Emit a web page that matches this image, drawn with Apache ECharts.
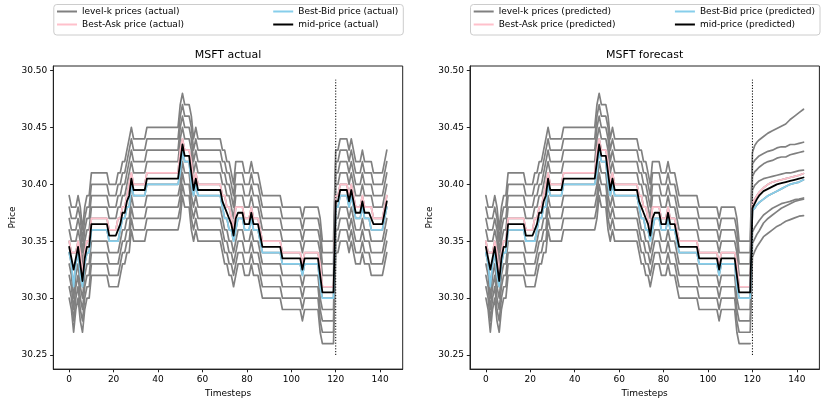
<!DOCTYPE html>
<html>
<head>
<meta charset="utf-8">
<title>MSFT actual / forecast</title>
<script src="https://cdn.jsdelivr.net/npm/echarts@6/dist/echarts.min.js"></script>
<style>
  html, body { margin: 0; padding: 0; background: #fff; }
  #chart { width: 823px; height: 403px; }
</style>
</head>
<body>
<div id="chart"></div>
<script>
// best ask / best bid per timestep (t = 0..143)
const bestAsk = [
  30.35, 30.34, 30.34, 30.34, 30.35, 30.34, 30.32, 30.34, 30.35, 30.35,
  30.37, 30.37, 30.37, 30.37, 30.37, 30.37, 30.37, 30.37, 30.36, 30.36, 30.36,
  30.36, 30.37, 30.37, 30.38, 30.38, 30.39, 30.40, 30.41,
  30.40, 30.40, 30.40, 30.40, 30.40, 30.40,
  30.41, 30.41, 30.41, 30.41, 30.41, 30.41, 30.41, 30.41, 30.41, 30.41, 30.41, 30.41, 30.41, 30.41, 30.41,
  30.43, 30.44, 30.43, 30.43, 30.43, 30.42, 30.40, 30.41,
  30.40, 30.40, 30.40, 30.40, 30.40, 30.40, 30.40, 30.40, 30.40, 30.40, 30.40,
  30.39, 30.39, 30.38, 30.38, 30.37, 30.36, 30.38,
  30.38, 30.38, 30.38, 30.37, 30.37, 30.37, 30.38, 30.37, 30.37, 30.37, 30.36,
  30.35, 30.35, 30.35, 30.35, 30.35, 30.35, 30.35, 30.35, 30.35,
  30.34, 30.34, 30.34, 30.34, 30.34, 30.34, 30.34, 30.34, 30.34,
  30.33, 30.34, 30.34, 30.34, 30.34, 30.34, 30.34, 30.34, 30.33,
  30.31, 30.31, 30.31, 30.31, 30.31, 30.31,
  30.39, 30.39, 30.40, 30.40, 30.40, 30.40, 30.39, 30.40, 30.39, 30.38, 30.38, 30.38,
  30.39, 30.38, 30.38, 30.38, 30.38, 30.37, 30.37, 30.37, 30.37, 30.37, 30.38, 30.39
];
const bestBid = [
  30.34, 30.33, 30.31, 30.33, 30.34, 30.32, 30.31, 30.33, 30.34, 30.34,
  30.36, 30.36, 30.36, 30.36, 30.36, 30.36, 30.36, 30.36, 30.35, 30.35, 30.35,
  30.35, 30.35, 30.36, 30.37, 30.37, 30.38, 30.38, 30.40,
  30.39, 30.39, 30.39, 30.39, 30.39, 30.39,
  30.40, 30.40, 30.40, 30.40, 30.40, 30.40, 30.40, 30.40, 30.40, 30.40, 30.40, 30.40, 30.40, 30.40, 30.40,
  30.41, 30.43, 30.42, 30.42, 30.42, 30.40, 30.39, 30.40,
  30.39, 30.39, 30.39, 30.39, 30.39, 30.39, 30.39, 30.39, 30.39, 30.39, 30.39,
  30.38, 30.37, 30.37, 30.36, 30.36, 30.35, 30.36,
  30.37, 30.37, 30.37, 30.36, 30.36, 30.36, 30.37, 30.36, 30.36, 30.36, 30.35,
  30.34, 30.34, 30.34, 30.34, 30.34, 30.34, 30.34, 30.34, 30.34,
  30.33, 30.33, 30.33, 30.33, 30.33, 30.33, 30.33, 30.33, 30.33,
  30.32, 30.33, 30.33, 30.33, 30.33, 30.33, 30.33, 30.33, 30.31,
  30.30, 30.30, 30.30, 30.30, 30.30, 30.30,
  30.38, 30.38, 30.39, 30.39, 30.39, 30.39, 30.38, 30.39, 30.38, 30.37, 30.37, 30.37,
  30.38, 30.37, 30.37, 30.37, 30.36, 30.36, 30.36, 30.36, 30.36, 30.36, 30.37, 30.38
];

// book depth: level-k sits k ticks away from the best price
const tickSize = 0.01;
const levelTicks = [0, 1, 2, 3, 4];

// forecast (right panel), starting at forecastStart
const forecastStart = 120;
const fcSteps = [120, 121, 122, 123, 125, 127, 129, 131, 133, 135, 137, 139, 141, 143];
const fcAsk = [30.383, 30.387, 30.390, 30.393, 30.397, 30.400, 30.402, 30.403, 30.404, 30.405, 30.406, 30.407, 30.408, 30.4095];
const fcMid = [30.379, 30.383, 30.387, 30.390, 30.394, 30.396, 30.398, 30.400, 30.401, 30.402, 30.403, 30.404, 30.405, 30.406];
const fcBid = [30.377, 30.379, 30.382, 30.384, 30.387, 30.390, 30.392, 30.394, 30.396, 30.398, 30.400, 30.401, 30.402, 30.404];
// ask levels 2..5 and bid levels 2..4 of the forecast
const fcAskDepth = [
  [30.395, 30.399, 30.401, 30.403, 30.405, 30.406, 30.407, 30.408, 30.409, 30.410, 30.410, 30.411, 30.412, 30.4125],
  [30.407, 30.411, 30.413, 30.415, 30.418, 30.420, 30.421, 30.423, 30.424, 30.424, 30.426, 30.427, 30.428, 30.429],
  [30.418, 30.421, 30.423, 30.425, 30.427, 30.429, 30.430, 30.432, 30.433, 30.433, 30.435, 30.435, 30.436, 30.437],
  [30.428, 30.434, 30.437, 30.439, 30.442, 30.445, 30.447, 30.449, 30.451, 30.453, 30.457, 30.460, 30.463, 30.466]
];
const fcBidDepth = [
  [30.358, 30.362, 30.365, 30.368, 30.373, 30.376, 30.379, 30.381, 30.383, 30.384, 30.385, 30.3865, 30.387, 30.388],
  [30.348, 30.352, 30.356, 30.359, 30.366, 30.370, 30.373, 30.376, 30.379, 30.381, 30.383, 30.385, 30.386, 30.387],
  [30.336, 30.341, 30.345, 30.348, 30.354, 30.357, 30.360, 30.363, 30.365, 30.3675, 30.369, 30.3705, 30.372, 30.3725]
];

const markerRange = [30.25, 30.492];
const xTicks = [0, 20, 40, 60, 80, 100, 120, 140];
const yTicks = [30.25, 30.30, 30.35, 30.40, 30.45, 30.50];

const FONT = 'DejaVu Sans';
const GRAY = '#808080', PINK = '#ffc0cb', BLUE = '#87ceeb', BLACK = '#000000';

const chart = echarts.init(document.getElementById('chart'), null, { renderer: 'canvas' });

const fcPts = vals => vals.map((v, i) => [fcSteps[i], v]);
const path = (base, sign, k, upTo) =>
  base.slice(0, upTo).map((p, t) => [t, +(p + sign * k * tickSize).toFixed(3)]);
const actualMid = bestAsk.map((a, t) => +((a + bestBid[t]) / 2).toFixed(4));

const line = (name, data, color, width, idx, z) => ({
  name, type: 'line', data, xAxisIndex: idx, yAxisIndex: idx,
  showSymbol: false, symbol: 'none', silent: true, animation: false, z,
  color, lineStyle: { color, width, join: 'round', cap: 'round' }
});

function panel(idx, tag, forecast) {
  const n = forecast ? forecastStart : bestAsk.length;
  const gray = `level-k prices (${tag})`;
  const out = [];
  levelTicks.forEach(k => {
    let a = path(bestAsk, 1, k, n);
    let b = path(bestBid, -1, k, n);
    if (forecast) {
      const fa = k === 0 ? fcAsk : fcAskDepth[k - 1];
      const fb = k === 0 ? fcBid : fcBidDepth[k - 1];
      if (fa) a = a.concat(fcPts(fa));
      if (fb) b = b.concat(fcPts(fb));
    }
    out.push(line(gray, a, GRAY, 1.7, idx, 2));
    out.push(line(gray, b, GRAY, 1.7, idx, 2));
  });
  const ask = path(bestAsk, 1, 0, n), bid = path(bestBid, -1, 0, n);
  const mid = actualMid.slice(0, n).map((v, t) => [t, v]);
  out.push(line(`Best-Ask price (${tag})`, forecast ? ask.concat(fcPts(fcAsk)) : ask, PINK, 1.7, idx, 3));
  out.push(line(`Best-Bid price (${tag})`, forecast ? bid.concat(fcPts(fcBid)) : bid, BLUE, 1.7, idx, 4));
  out.push(line(`mid-price (${tag})`, forecast ? mid.concat(fcPts(fcMid)) : mid, BLACK, 1.8, idx, 5));
  out.push({
    type: 'line', xAxisIndex: idx, yAxisIndex: idx, silent: true, animation: false,
    showSymbol: false, symbol: 'none', z: 6,
    data: [[forecastStart, markerRange[0]], [forecastStart, markerRange[1]]],
    lineStyle: { color: '#000', width: 1, type: [1.2, 1.6] }
  });
  return out;
}

const panels = [
  { left: 53.3, tag: 'actual', title: 'MSFT actual', forecast: false },
  { left: 470, tag: 'predicted', title: 'MSFT forecast', forecast: true }
];
const gridW = 349.4, gridTop = 66, gridH = 307.3;
const textStyle = { fontFamily: FONT, fontSize: 9, color: '#000' };

// width of a legend label, so the second column can hug the frame's right side
const measure = document.createElement('canvas').getContext('2d');
measure.font = `9px "${FONT}"`;
const textW = s => measure.measureText(s).width;

const legends = [], frames = [];
panels.forEach(p => {
  const item = (name, left, top) => ({
    data: [name], left, top, padding: 0, itemGap: 0,
    icon: 'rect', itemWidth: 20, itemHeight: 2, selectedMode: false, textStyle
  });
  const bidName = `Best-Bid price (${p.tag})`, midName = `mid-price (${p.tag})`;
  const col2 = p.left + 345 - 25 - Math.max(textW(bidName), textW(midName));
  legends.push(item(`level-k prices (${p.tag})`, p.left + 3.7, 7));
  legends.push(item(`Best-Ask price (${p.tag})`, p.left + 3.7, 20));
  legends.push(item(bidName, col2, 7));
  legends.push(item(midName, col2, 20));
  frames.push({
    type: 'rect', z: -1,
    shape: { x: p.left + 0.5, y: 4.5, width: 349.5, height: 30.5, r: 3 },
    style: { fill: 'rgba(255,255,255,0.8)', stroke: '#cccccc', lineWidth: 1 }
  });
});

chart.setOption({
  backgroundColor: '#fff',
  animation: false,
  title: panels.map(p => ({
    text: p.title, left: p.left + gridW / 2, top: 50, textAlign: 'center', padding: 0,
    textStyle: { fontFamily: FONT, fontSize: 11, fontWeight: 'normal', color: '#000' }
  })),
  legend: legends,
  graphic: frames,
  grid: panels.map(p => ({
    left: p.left, top: gridTop, width: gridW, height: gridH,
    show: true, borderColor: '#222', borderWidth: 1, containLabel: false
  })),
  xAxis: panels.map((p, i) => ({
    type: 'value', gridIndex: i, min: -7.15, max: 150.15,
    name: 'Timesteps', nameLocation: 'middle', nameGap: 19,
    nameTextStyle: textStyle,
    axisLine: { show: true, onZero: false, lineStyle: { color: '#222', width: 1 } },
    axisTick: { show: true, inside: false, customValues: xTicks, length: 3.2, lineStyle: { color: '#222' } },
    axisLabel: { customValues: xTicks, margin: 6, ...textStyle },
    splitLine: { show: false }
  })),
  yAxis: panels.map((p, i) => ({
    type: 'value', gridIndex: i, min: 30.2376, max: 30.504,
    name: 'Price', nameLocation: 'middle', nameGap: 36,
    nameTextStyle: textStyle,
    axisLine: { show: true, onZero: false, lineStyle: { color: '#222', width: 1 } },
    axisTick: { show: true, inside: false, customValues: yTicks, length: 3.2, lineStyle: { color: '#222' } },
    axisLabel: { customValues: yTicks, margin: 6, formatter: v => v.toFixed(2), ...textStyle },
    splitLine: { show: false }
  })),
  series: panels.flatMap((p, i) => panel(i, p.tag, p.forecast))
});
</script>
</body>
</html>
